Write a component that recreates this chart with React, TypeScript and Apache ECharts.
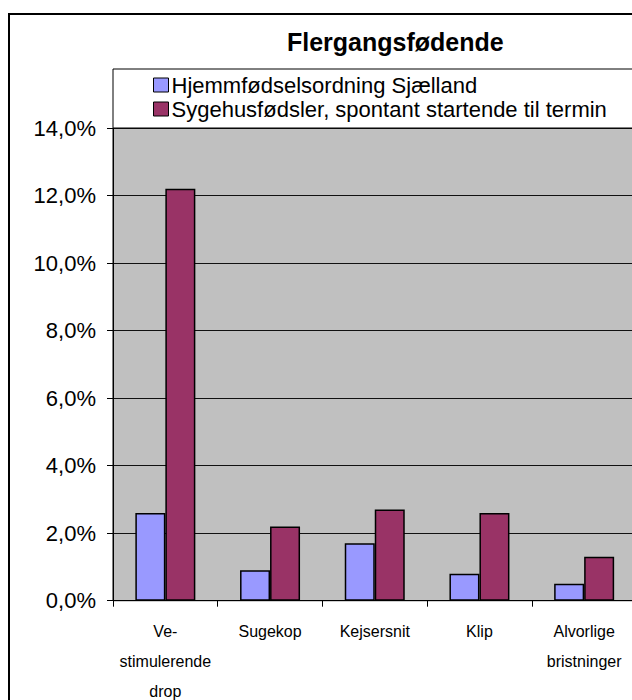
import React, { useEffect, useRef } from "react";
import * as echarts from "echarts";

const categories = ["Ve-\nstimulerende\ndrop", "Sugekop", "Kejsersnit", "Klip", "Alvorlige\nbristninger"];
const seriesNames = ["Hjemmfødselsordning Sjælland", "Sygehusfødsler, spontant startende til termin"];
const homeBirths = [2.6, 0.9, 1.7, 0.8, 0.5];
const hospitalBirths = [12.2, 2.2, 2.7, 2.6, 1.3];
const colors = ["#9999FF", "#993366"];

export default function App() {
  const ref = useRef<HTMLDivElement>(null);
  useEffect(() => {
    if (!ref.current) return;
    const chart = echarts.init(ref.current, null, { renderer: "svg" });
    const font = "'Liberation Sans', Arial, sans-serif";
    chart.setOption({
      animation: false,
      backgroundColor: "#ffffff",
      textStyle: { fontFamily: font },
      title: {
        text: "Flergangsfødende",
        left: 282,
        top: 24,
        textStyle: { fontSize: 25, fontWeight: "bold", color: "#000", fontFamily: font },
      },
      graphic: [
        {
          type: "rect",
          shape: { x: 9, y: 14, width: 700, height: 720 },
          style: { fill: "none", stroke: "#000", lineWidth: 2 },
          z: 100,
        },
        {
          type: "rect",
          shape: { x: 113, y: 69, width: 600, height: 59 },
          style: { fill: "#fff", stroke: "#000", lineWidth: 1 },
          z: 1,
        },
      ],
      legend: {
        orient: "vertical",
        left: 153,
        top: 74,
        padding: 0,
        itemWidth: 15,
        itemHeight: 14,
        itemGap: 2,
        icon: "rect",
        z: 5,
        textStyle: { fontSize: 22, lineHeight: 21, color: "#000", fontFamily: font, padding: [0, 0, 0, -2] },
        data: seriesNames.map((n, i) => ({
          name: n,
          itemStyle: { color: colors[i], borderColor: "#000", borderWidth: 1 },
        })),
      },
      grid: {
        left: 113,
        top: 128,
        width: 523.5,
        height: 472.7,
        show: true,
        backgroundColor: "#C0C0C0",
        borderColor: "#000",
        borderWidth: 1,
      },
      xAxis: {
        type: "category",
        data: categories,
        axisLine: { lineStyle: { color: "#000", width: 1 } },
        axisTick: { show: true, interval: 0, length: 6, lineStyle: { color: "#000" } },
        axisLabel: {
          interval: 0,
          fontSize: 16,
          lineHeight: 30,
          margin: 16,
          color: "#000",
          fontFamily: font,
        },
      },
      yAxis: {
        type: "value",
        min: 0,
        max: 14,
        interval: 2,
        axisLine: { show: true, lineStyle: { color: "#000", width: 1 } },
        axisTick: { show: true, length: 6, lineStyle: { color: "#000" } },
        splitLine: { show: true, lineStyle: { color: "#111", width: 1 } },
        axisLabel: {
          fontSize: 22,
          margin: 17,
          color: "#000",
          fontFamily: font,
          formatter: (v: number) => v.toFixed(1).replace(".", ",") + "%",
        },
      },
      series: [
        {
          name: seriesNames[0],
          type: "bar",
          data: homeBirths,
          barWidth: 30,
          barGap: "0%",
          itemStyle: { color: colors[0], borderColor: "#000", borderWidth: 1.5 },
        },
        {
          name: seriesNames[1],
          type: "bar",
          data: hospitalBirths,
          barWidth: 30,
          barGap: "0%",
          itemStyle: { color: colors[1], borderColor: "#000", borderWidth: 1.5 },
        },
      ],
    });
    return () => chart.dispose();
  }, []);
  return (
    <div
      style={{
        position: "fixed",
        left: 0,
        top: 0,
        width: 632,
        height: 700,
        overflow: "hidden",
        background: "#fff",
      }}
    >
      <div ref={ref} style={{ width: 660, height: 720 }} />
    </div>
  );
}
